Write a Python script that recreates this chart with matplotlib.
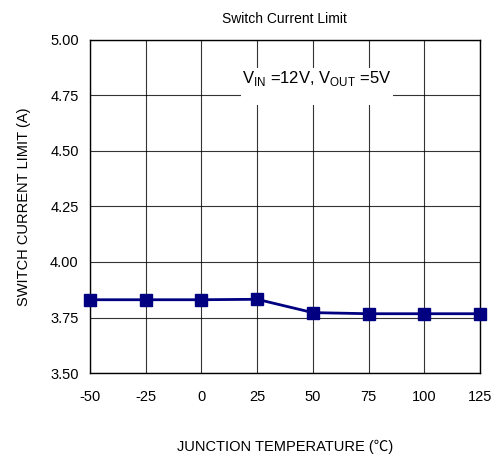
import numpy as np
import matplotlib
matplotlib.use('Agg')
import matplotlib.pyplot as plt
from matplotlib.patches import Rectangle

plt.rcParams['font.family'] = ['Liberation Sans', 'DejaVu Sans']
plt.rcParams['axes.unicode_minus'] = False

temps = [-50, -25, 0, 25, 50, 75, 100, 125]
current_limit = [3.83, 3.83, 3.83, 3.832, 3.772, 3.767, 3.767, 3.767]
y_ticks = [3.50, 3.75, 4.00, 4.25, 4.50, 4.75, 5.00]

fig = plt.figure(figsize=(4.99, 4.62), dpi=100)
ax = fig.add_axes([0.180, 0.1926, 0.782, 0.721])

ax.plot(temps, current_limit, color='#000080', linewidth=2,
        marker='s', markersize=8.5, zorder=5, clip_on=False)

ax.set_xlim(-50, 125)
ax.set_ylim(3.5, 5.0)
ax.set_xticks(temps)
ax.set_yticks(y_ticks)
ax.set_yticklabels([f'{v:.2f}' for v in y_ticks])
ax.grid(True, color='black', linewidth=0.8, alpha=0.8)
ax.tick_params(length=0, labelsize=10.5, pad=8)
ax.tick_params(axis='x', pad=12)
for s in ax.spines.values():
    s.set_linewidth(1.0)

ax.set_title('Switch Current Limit', fontsize=10, pad=12)
ax.set_xlabel('JUNCTION TEMPERATURE (\u2103)', fontsize=10.5, labelpad=26,
              family=['Liberation Sans', 'Noto Sans CJK SC'])
ax.set_ylabel('SWITCH CURRENT LIMIT (A)', fontsize=10.5, labelpad=14)

# white label box that hides the grid behind the annotation
ax.add_patch(Rectangle((0.388, 0.805), 0.388, 0.111, transform=ax.transAxes,
                       facecolor='white', edgecolor='none', zorder=3))
ax.text(0.582, 0.884, r'V$_{\mathregular{IN}}$ =12V, V$_{\mathregular{OUT}}$ =5V',
        transform=ax.transAxes, ha='center', va='center', fontsize=12, zorder=4)

fig.savefig('out.png', dpi=100)
